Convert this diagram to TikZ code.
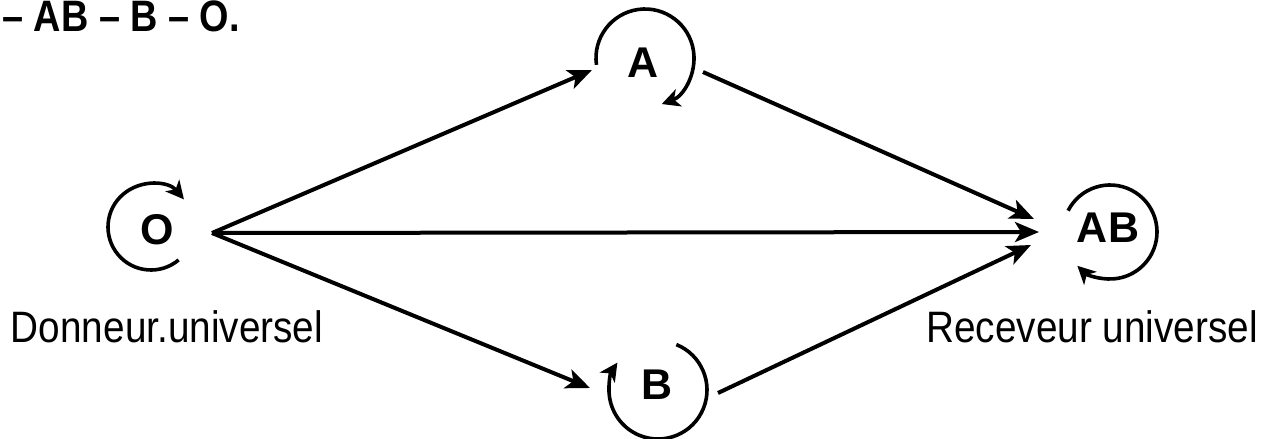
\documentclass[tikz,border=0pt]{standalone}
\usepackage{fontspec}
\setmainfont{Liberation Sans}
\usetikzlibrary{arrows.meta,calc}
\begin{document}
\begin{tikzpicture}[x=0.5pt,y=-0.5pt,
  conn/.style={line width=2pt,-{Stealth[length=12pt,width=10pt,inset=3pt]}},
  loop/.style={line width=1.8pt,-{Stealth[length=9pt,width=9pt,inset=2.5pt]}},
  grp/.style={font=\fontsize{21.5}{25}\selectfont\bfseries,inner sep=0pt},
  lbl/.style={font=\fontsize{22}{26}\selectfont,inner sep=0pt,xscale=0.88,transform shape}]
\useasboundingbox (0,0) rectangle (1270,439);
% top-left text
\node[anchor=base west,inner sep=0pt,xscale=0.86,transform shape,font=\fontsize{22}{26}\selectfont\bfseries] (top) at (2,32) {– AB – B – O.};
% group nodes
\node[grp] (O) at (157,230) {O};
\node[grp] (A) at (643,63) {A};
\node[grp] (B) at (657,385) {B};
\node[grp] (AB) at (1108,228) {AB};
% anchor coordinates for connectors
\coordinate (Oout) at (212,233);
\coordinate (Ain) at (592,70);
\coordinate (Bin) at (590,388);
\coordinate (Aout) at (703,72);
\coordinate (Bout) at (718,393);
\coordinate (ABinA) at (1034,219);
\coordinate (ABinO) at (1039,232);
\coordinate (ABinB) at (1031,245);
% connectors
\draw[conn] (Oout) -- (Ain);
\draw[conn] (Oout) -- (Bin);
\draw[conn] (Oout) -- (ABinO);
\draw[conn] (Aout) -- (ABinA);
\draw[conn] (Bout) -- (ABinB);
% loops
\draw[loop] ($(151,227)+(50:43)$) arc[start angle=50,end angle=320,radius=43];
\draw[loop] ($(645,58)+(172:49)$) arc[start angle=172,end angle=430,radius=49];
\draw[loop] ($(658,390)+(-68:49)$) arc[start angle=-68,end angle=214,radius=49];
\draw[loop] ($(1110,232)+(207:47)$) arc[start angle=207,end angle=494,radius=47];
% labels
\node[lbl] (don) at (167,327) {Donneur.universel};
\node[lbl] (rec) at (1092,327) {Receveur universel};
\end{tikzpicture}
\end{document}
